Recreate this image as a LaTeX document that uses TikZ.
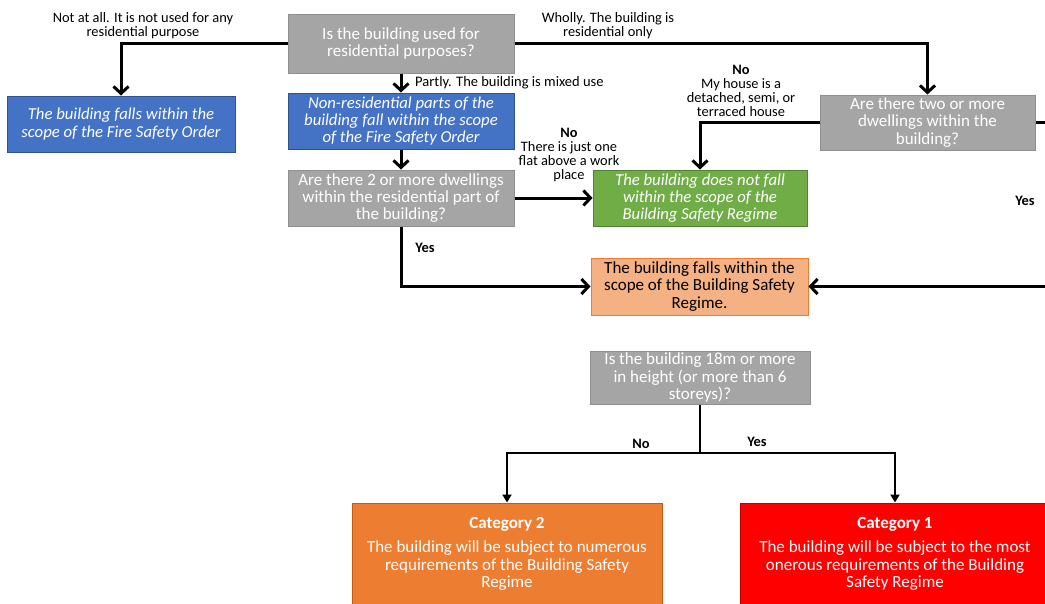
\documentclass[tikz,border=0pt]{standalone}
\usepackage{fontspec}
\setmainfont{Carlito}
\usetikzlibrary{arrows.meta}
\definecolor{grayF}{HTML}{A5A5A5}
\definecolor{grayD}{HTML}{8F8F8F}
\definecolor{blueF}{HTML}{4472C4}
\definecolor{blueD}{HTML}{2F528F}
\definecolor{greenF}{HTML}{70AD47}
\definecolor{greenD}{HTML}{548235}
\definecolor{salmonF}{HTML}{F4B183}
\definecolor{salmonD}{HTML}{ED7D31}
\definecolor{orangeF}{HTML}{ED7D31}
\definecolor{orangeD}{HTML}{C55A11}
\definecolor{redF}{HTML}{FF0000}
\definecolor{redD}{HTML}{C00000}
\tikzset{
  box/.style={draw, line width=1pt, align=center, inner sep=1pt,
    font=\fontsize{17}{17.3}\selectfont},
  graybox/.style={box, fill=grayF, draw=grayD, text=white},
  bluebox/.style={box, fill=blueF, draw=blueD, text=white, font=\fontsize{16.7}{17.3}\selectfont\itshape},
  greenbox/.style={box, fill=greenF, draw=greenD, text=white, font=\fontsize{16.7}{17.3}\selectfont\itshape},
  salmonbox/.style={box, fill=salmonF, draw=salmonD, text=black},
  orangebox/.style={box, fill=orangeF, draw=orangeD, text=white},
  redbox/.style={box, fill=redF, draw=redD, text=white},
  lbl/.style={font=\fontsize{14.4}{14}\selectfont, align=center, inner sep=0pt},
  conn/.style={line width=3pt, -{Straight Barb[length=7pt,width=15pt]}},
  conntwo/.style={line width=2.5pt, -{Triangle[length=8pt,width=9pt]}},
  plain/.style={line width=2.5pt}
}
\begin{document}
\begin{tikzpicture}[x=1pt,y=-1pt]
\useasboundingbox (0,0) rectangle (1045,603);
\clip (0,0) rectangle (1045,603);
\fill[white] (0,0) rectangle (1045,603);

% nodes
\node[graybox, minimum width=226pt, minimum height=59pt] (q1) at (401,43.5)
  {Is the building used for\\residential purposes?};
\node[bluebox, minimum width=228pt, minimum height=56pt] (fso) at (121,124)
  {The building falls within the\\scope of the Fire Safety Order};
\node[bluebox, minimum width=226pt, minimum height=56pt] (nonres) at (401,121)
  {Non-residential parts of the\\building fall within the scope\\of the Fire Safety Order};
\node[graybox, minimum width=226pt, minimum height=56pt] (q2) at (401,198)
  {Are there 2 or more dwellings\\within the residential part of\\the building?};
\node[greenbox, minimum width=214pt, minimum height=56pt] (green) at (700,198)
  {The building does not fall\\within the scope of the\\Building Safety Regime};
\node[graybox, minimum width=215pt, minimum height=55pt] (q3) at (927.5,122.5)
  {Are there two or more\\dwellings within the\\building?};
\node[salmonbox, minimum width=217pt, minimum height=57pt] (bsr) at (699.5,286.5)
  {The building falls within the\\scope of the Building Safety\\Regime.};
\node[graybox, minimum width=220pt, minimum height=53pt] (q4) at (700,377.5)
  {Is the building 18m or more\\in height (or more than 6\\storeys)?};
\node[orangebox, minimum width=310pt, minimum height=102pt] (cat2) at (507,554)
  {\textbf{Category 2}\\[7pt]The building will be subject to numerous\\requirements of the Building Safety\\Regime};
\node[redbox, minimum width=310pt, minimum height=102pt] (cat1) at (895,554)
  {\textbf{Category 1}\\[7pt]The building will be subject to the most\\onerous requirements of the Building\\Safety Regime};

% helper coordinates
\coordinate (rgt) at (1062,122.5);
\coordinate (split) at (700,453);

% connectors
\draw[conn] (q1.west) -| (fso.north);
\draw[conn] (q1.east) -| (q3.north);
\draw[conn] (q1.south) -- (nonres.north);
\draw[conn] (nonres.south) -- (q2.north);
\draw[conn] (q2.east) -- (green.west);
\draw[conn] (q3.west) -| (green.north);
\draw[conn] (q2.south) |- (bsr.west);
\draw[conn] (q3.east) -- (rgt) |- (bsr.east);
\draw[plain] (q4.south) -- (split);
\draw[conntwo] (split) -| (cat2.north);
\draw[conntwo] (split) -| (cat1.north);

% labels
\node[lbl] (l1) at (143,25.5) {Not at all. It is not used for any\\residential purpose};
\node[lbl] (l2) at (608,25.5) {Wholly. The building is\\residential only};
\node[lbl, anchor=west, font=\fontsize{14.5}{14.5}\selectfont] (l3) at (415,83) {Partly. The building is mixed use};
\node[lbl] (l4) at (569,155) {\textbf{No}\\There is just one\\flat above a work\\place};
\node[lbl] (l5) at (741,91) {\textbf{No}\\My house is a\\detached, semi, or\\terraced house};
\node[lbl] (l6) at (425,248) {\textbf{Yes}};
\node[lbl] (l7) at (1025,201) {\textbf{Yes}};
\node[lbl] (l8) at (641,444) {\textbf{No}};
\node[lbl] (l9) at (757,442) {\textbf{Yes}};
\end{tikzpicture}
\end{document}
